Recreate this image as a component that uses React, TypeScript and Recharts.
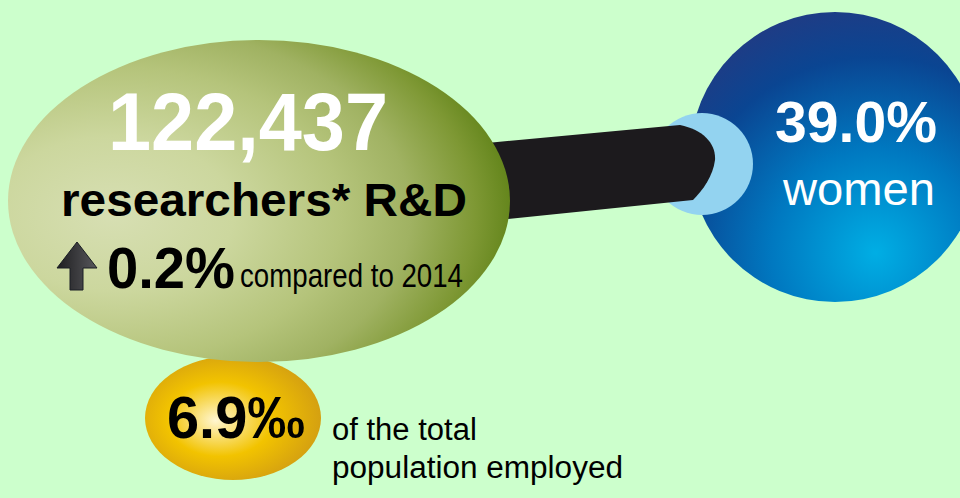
import React from "react";
import { ScatterChart, Scatter, XAxis, YAxis } from "recharts";

// ---- data ----
const headlineValues = [122437];
const headlineLabels = ["researchers* R&D"];
const changeValues = [0.2];
const compareYears = [2014];
const womenShares = [39.0];
const womenLabels = ["women"];
const employedPermille = [6.9];
const employedLabels = ["of the total", "population employed"];

// ---- layout (design positions, in chart units) ----
const W = 960;
const H = 498;
const FONT = "'Liberation Sans', Arial, Helvetica, sans-serif";

const greenPos = [{ x: 259, y: 201 }];
const goldPos = [{ x: 233, y: 418 }];
const bluePos = [{ x: 835, y: 157 }];
const ringPos = [{ x: 702, y: 164 }];

const GreenBubble = (p: any) => {
  const { cx, cy } = p;
  const arrowX = cx - 202;
  const arrowTop = cy + 41;
  return (
    <g>
      <ellipse cx={cx} cy={cy} rx={251} ry={161} fill="url(#gGreen)" />
      <text x={cx - 11} y={cy - 51} textAnchor="middle" fill="#ffffff" fontFamily={FONT} fontWeight="bold" fontSize={81} textLength={280} lengthAdjust="spacingAndGlyphs">
        {headlineValues[0].toLocaleString("en-US")}
      </text>
      <text x={cx - 198} y={cy + 15} fill="#000" fontFamily={FONT} fontWeight="bold" fontSize={47} textLength={406} lengthAdjust="spacingAndGlyphs">
        {headlineLabels[0]}
      </text>
      <path
        d={`M ${arrowX} ${arrowTop + 26} L ${arrowX + 20} ${arrowTop} L ${arrowX + 40} ${arrowTop + 26} L ${arrowX + 26} ${arrowTop + 26} L ${arrowX + 26} ${arrowTop + 48} L ${arrowX + 13} ${arrowTop + 48} L ${arrowX + 13} ${arrowTop + 26} Z`}
        fill="url(#gArrow)"
        stroke="#1a1f24"
        strokeWidth={1}
      />
      <text x={cx - 152} y={cy + 87} fill="#000" fontFamily={FONT} fontWeight="bold" fontSize={57} textLength={128} lengthAdjust="spacingAndGlyphs">
        {changeValues[0].toFixed(1) + "%"}
      </text>
      <text x={cx - 19} y={cy + 86} fill="#000" fontFamily={FONT} fontSize={33} textLength={223} lengthAdjust="spacingAndGlyphs">
        {"compared to " + compareYears[0]}
      </text>
    </g>
  );
};

const GoldBubble = (p: any) => {
  const { cx, cy } = p;
  return (
    <g>
      <ellipse cx={cx} cy={cy} rx={88} ry={62} fill="url(#gGold)" />
      <text x={cx - 66} y={cy + 20} fill="#000" fontFamily={FONT} fontWeight="bold" fontSize={59} textLength={138} lengthAdjust="spacingAndGlyphs">
        {employedPermille[0].toFixed(1) + "\u2030"}
      </text>
      <text x={cx + 99} y={cy + 22} fill="#000" fontFamily={FONT} fontSize={31}>
        {employedLabels[0]}
      </text>
      <text x={cx + 99} y={cy + 60} fill="#000" fontFamily={FONT} fontSize={31} textLength={291} lengthAdjust="spacingAndGlyphs">
        {employedLabels[1]}
      </text>
    </g>
  );
};

const BlueBubble = (p: any) => {
  const { cx, cy } = p;
  return (
    <g>
      <circle cx={cx} cy={cy} r={145} fill="url(#gBlue)" />
      <text x={cx + 21} y={cy - 15} textAnchor="middle" fill="#ffffff" fontFamily={FONT} fontWeight="bold" fontSize={57} textLength={162} lengthAdjust="spacingAndGlyphs">
        {womenShares[0].toFixed(1) + "%"}
      </text>
      <text x={cx + 24} y={cy + 48} textAnchor="middle" fill="#ffffff" fontFamily={FONT} fontSize={46} textLength={152} lengthAdjust="spacingAndGlyphs">
        {womenLabels[0]}
      </text>
    </g>
  );
};

const RingAndBar = (p: any) => {
  const { cx, cy } = p;
  return (
    <g>
      <circle cx={cx} cy={cy} r={51} fill="#93d3f0" />
      <path
        d={`M ${cx - 215} ${cy - 21} L ${cx - 22} ${cy - 39} C ${cx + 2} ${cy - 34} ${cx + 14} ${cy - 20} ${cx + 13} ${cy - 4} C ${cx + 11} ${cy + 12} ${cx + 1} ${cy + 26} ${cx - 9} ${cy + 36} L ${cx - 205} ${cy + 56} Z`}
        fill="#1c1a1d"
      />
    </g>
  );
};

export default function App() {
  return (
    <div style={{ position: "absolute", left: 0, top: 0, width: W, height: H, background: "#ccffcc" }}>
      <ScatterChart width={W} height={H} margin={{ top: 0, right: 0, bottom: 0, left: 0 }}>
        <defs>
          <radialGradient id="gGreen" cx="0.21" cy="0.54" r="0.8" fx="0.21" fy="0.54">
            <stop offset="0" stopColor="#d7dfb3" />
            <stop offset="0.3" stopColor="#ccd79e" />
            <stop offset="0.57" stopColor="#b5c47b" />
            <stop offset="0.74" stopColor="#a0b262" />
            <stop offset="0.9" stopColor="#7e9834" />
            <stop offset="1" stopColor="#62841a" />
          </radialGradient>
          <radialGradient id="gGold" cx="0.45" cy="0.5" r="0.6" fx="0.4" fy="0.52">
            <stop offset="0" stopColor="#fff6d0" />
            <stop offset="0.5" stopColor="#f2c300" />
            <stop offset="1" stopColor="#cf9a14" />
          </radialGradient>
          <radialGradient id="gBlue" cx="0.64" cy="0.83" r="0.9" fx="0.64" fy="0.83">
            <stop offset="0" stopColor="#00aee4" />
            <stop offset="0.4" stopColor="#0078c0" />
            <stop offset="0.75" stopColor="#0a4592" />
            <stop offset="1" stopColor="#233a82" />
          </radialGradient>
          <linearGradient id="gArrow" x1="0" y1="0" x2="1" y2="0">
            <stop offset="0" stopColor="#1e1e20" />
            <stop offset="1" stopColor="#58585c" />
          </linearGradient>
        </defs>
        <XAxis type="number" dataKey="x" domain={[0, W]} hide />
        <YAxis type="number" dataKey="y" domain={[0, H]} reversed hide />
        <Scatter data={bluePos} shape={(p: any) => <BlueBubble {...p} />} isAnimationActive={false} />
        <Scatter data={ringPos} shape={(p: any) => <RingAndBar {...p} />} isAnimationActive={false} />
        <Scatter data={goldPos} shape={(p: any) => <GoldBubble {...p} />} isAnimationActive={false} />
        <Scatter data={greenPos} shape={(p: any) => <GreenBubble {...p} />} isAnimationActive={false} />
      </ScatterChart>
    </div>
  );
}
